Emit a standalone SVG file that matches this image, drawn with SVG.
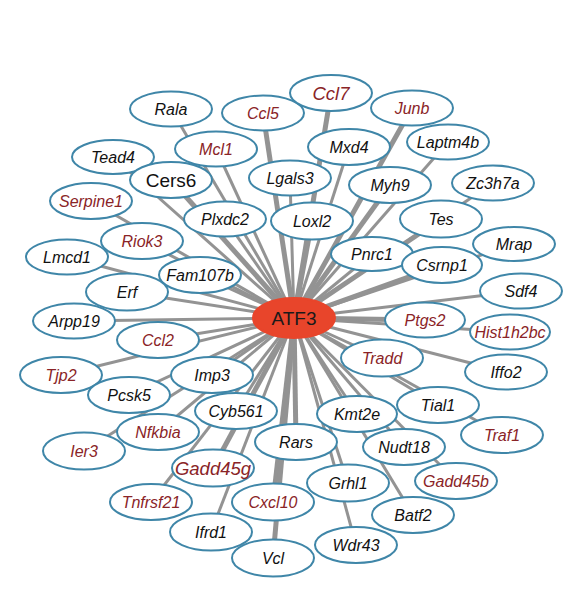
<svg xmlns="http://www.w3.org/2000/svg" width="565" height="599" viewBox="0 0 565 599">
<style>
.e{stroke:#939393;stroke-width:3;fill:none;stroke-linecap:butt}
.t{stroke-width:5}
.n ellipse{fill:#fff;stroke:#3f86a8;stroke-width:2}
.n text{font-family:"Liberation Sans",Arial,sans-serif;font-style:italic;font-size:16px;text-anchor:middle;fill:#111}
.n text.r{fill:#8a2427}
.n text.b{font-size:18.5px}
#ATF3 ellipse{fill:#e8452b;stroke:#e8452b}
#ATF3 text{font-style:normal;font-size:19px;fill:#1a1a1a}
</style>
<rect width="565" height="599" fill="#fff"/>
<g id="edges">
<line class="e" x1="294" y1="318" x2="171" y2="109"/>
<line class="e t" x1="294" y1="318" x2="263" y2="113"/>
<line class="e t" x1="294" y1="318" x2="331" y2="93"/>
<line class="e t" x1="294" y1="318" x2="412" y2="108"/>
<line class="e" x1="294" y1="318" x2="216" y2="149"/>
<line class="e" x1="294" y1="318" x2="113" y2="157"/>
<line class="e" x1="294" y1="318" x2="349" y2="147"/>
<line class="e" x1="294" y1="318" x2="448" y2="142"/>
<line class="e t" x1="294" y1="318" x2="171" y2="180"/>
<line class="e" x1="294" y1="318" x2="290" y2="178"/>
<line class="e t" x1="294" y1="318" x2="390" y2="185"/>
<line class="e" x1="294" y1="318" x2="493" y2="183"/>
<line class="e" x1="294" y1="318" x2="91" y2="201"/>
<line class="e" x1="294" y1="318" x2="225" y2="219"/>
<line class="e t" x1="294" y1="318" x2="312" y2="221"/>
<line class="e t" x1="294" y1="318" x2="441" y2="219"/>
<line class="e" x1="294" y1="318" x2="142" y2="241"/>
<line class="e" x1="294" y1="318" x2="514" y2="244"/>
<line class="e" x1="294" y1="318" x2="372" y2="254"/>
<line class="e" x1="294" y1="318" x2="67" y2="257"/>
<line class="e t" x1="294" y1="318" x2="442" y2="265"/>
<line class="e" x1="294" y1="318" x2="200" y2="275"/>
<line class="e" x1="294" y1="318" x2="127" y2="292"/>
<line class="e" x1="294" y1="318" x2="521" y2="291"/>
<line class="e" x1="294" y1="318" x2="74" y2="321"/>
<line class="e t" x1="294" y1="318" x2="425" y2="320"/>
<line class="e" x1="294" y1="318" x2="510" y2="332"/>
<line class="e" x1="294" y1="318" x2="158" y2="340"/>
<line class="e" x1="294" y1="318" x2="382" y2="358"/>
<line class="e" x1="294" y1="318" x2="506" y2="372"/>
<line class="e" x1="294" y1="318" x2="61" y2="375"/>
<line class="e" x1="294" y1="318" x2="212" y2="375"/>
<line class="e" x1="294" y1="318" x2="129" y2="395"/>
<line class="e" x1="294" y1="318" x2="438" y2="405"/>
<line class="e" x1="294" y1="318" x2="236" y2="411"/>
<line class="e" x1="294" y1="318" x2="357" y2="414"/>
<line class="e" x1="294" y1="318" x2="158" y2="432"/>
<line class="e" x1="294" y1="318" x2="502" y2="435"/>
<line class="e" x1="294" y1="318" x2="84" y2="451"/>
<line class="e t" x1="294" y1="318" x2="296" y2="442"/>
<line class="e" x1="294" y1="318" x2="404" y2="447"/>
<line class="e t" x1="294" y1="318" x2="213" y2="468"/>
<line class="e" x1="294" y1="318" x2="456" y2="481"/>
<line class="e" x1="294" y1="318" x2="348" y2="483"/>
<line class="e" x1="294" y1="318" x2="151" y2="502"/>
<line class="e t" x1="294" y1="318" x2="273" y2="502"/>
<line class="e" x1="294" y1="318" x2="413" y2="515"/>
<line class="e" x1="294" y1="318" x2="211" y2="532"/>
<line class="e" x1="294" y1="318" x2="356" y2="545"/>
<line class="e t" x1="294" y1="318" x2="273" y2="558"/>
</g>
<g id="Rala" class="n"><ellipse cx="171" cy="109" rx="41" ry="17.5"/><text x="171" y="115">Rala</text></g>
<g id="Ccl5" class="n"><ellipse cx="263" cy="113" rx="41" ry="17.5"/><text class="r" x="263" y="119">Ccl5</text></g>
<g id="Ccl7" class="n"><ellipse cx="331" cy="93" rx="41" ry="18"/><text class="r b" x="331" y="100">Ccl7</text></g>
<g id="Junb" class="n"><ellipse cx="412" cy="108" rx="41" ry="17.5"/><text class="r" x="412" y="114">Junb</text></g>
<g id="Mcl1" class="n"><ellipse cx="216" cy="149" rx="41" ry="17.5"/><text class="r" x="216" y="155">Mcl1</text></g>
<g id="Tead4" class="n"><ellipse cx="113" cy="157" rx="41" ry="17"/><text x="113" y="163">Tead4</text></g>
<g id="Mxd4" class="n"><ellipse cx="349" cy="147" rx="41" ry="18"/><text x="349" y="153">Mxd4</text></g>
<g id="Laptm4b" class="n"><ellipse cx="448" cy="142" rx="41" ry="17.5"/><text x="448" y="148">Laptm4b</text></g>
<g id="Cers6" class="n"><ellipse cx="171" cy="180" rx="41" ry="18"/><text class="b" x="171" y="187" style="font-style:normal;font-size:19px">Cers6</text></g>
<g id="Lgals3" class="n"><ellipse cx="290" cy="178" rx="41" ry="17.5"/><text x="290" y="184">Lgals3</text></g>
<g id="Myh9" class="n"><ellipse cx="390" cy="185" rx="41" ry="18"/><text x="390" y="191">Myh9</text></g>
<g id="Zc3h7a" class="n"><ellipse cx="493" cy="183" rx="41" ry="17.5"/><text x="493" y="189">Zc3h7a</text></g>
<g id="Serpine1" class="n"><ellipse cx="91" cy="201" rx="41" ry="18"/><text class="r" x="91" y="207">Serpine1</text></g>
<g id="Plxdc2" class="n"><ellipse cx="225" cy="219" rx="41" ry="17.5"/><text x="225" y="225">Plxdc2</text></g>
<g id="Loxl2" class="n"><ellipse cx="312" cy="221" rx="41" ry="18.5"/><text x="312" y="227">Loxl2</text></g>
<g id="Tes" class="n"><ellipse cx="441" cy="219" rx="41" ry="18.5"/><text x="441" y="225">Tes</text></g>
<g id="Riok3" class="n"><ellipse cx="142" cy="241" rx="41" ry="18"/><text class="r" x="142" y="247">Riok3</text></g>
<g id="Mrap" class="n"><ellipse cx="514" cy="244" rx="41" ry="17"/><text x="514" y="250">Mrap</text></g>
<g id="Pnrc1" class="n"><ellipse cx="372" cy="254" rx="41" ry="17"/><text x="372" y="260">Pnrc1</text></g>
<g id="Lmcd1" class="n"><ellipse cx="67" cy="257" rx="41" ry="17.5"/><text x="67" y="263">Lmcd1</text></g>
<g id="Csrnp1" class="n"><ellipse cx="442" cy="265" rx="40" ry="18"/><text x="442" y="271">Csrnp1</text></g>
<g id="Fam107b" class="n"><ellipse cx="200" cy="275" rx="41" ry="18"/><text x="200" y="281">Fam107b</text></g>
<g id="Erf" class="n"><ellipse cx="127" cy="292" rx="41" ry="18.5"/><text x="127" y="298">Erf</text></g>
<g id="Sdf4" class="n"><ellipse cx="521" cy="291" rx="41" ry="17.5"/><text x="521" y="297">Sdf4</text></g>
<g id="Arpp19" class="n"><ellipse cx="74" cy="321" rx="41" ry="17.5"/><text x="74" y="327">Arpp19</text></g>
<g id="Ptgs2" class="n"><ellipse cx="425" cy="320" rx="40" ry="17.5"/><text class="r" x="425" y="326">Ptgs2</text></g>
<g id="Hist1h2bc" class="n"><ellipse cx="510" cy="332" rx="40" ry="17.5"/><text class="r" x="510" y="338">Hist1h2bc</text></g>
<g id="Ccl2" class="n"><ellipse cx="158" cy="340" rx="41" ry="18"/><text class="r" x="158" y="346">Ccl2</text></g>
<g id="Tradd" class="n"><ellipse cx="382" cy="358" rx="41" ry="18.5"/><text class="r" x="382" y="364">Tradd</text></g>
<g id="Iffo2" class="n"><ellipse cx="506" cy="372" rx="41" ry="17.5"/><text x="506" y="378">Iffo2</text></g>
<g id="Tjp2" class="n"><ellipse cx="61" cy="375" rx="41" ry="18"/><text class="r" x="61" y="381">Tjp2</text></g>
<g id="Imp3" class="n"><ellipse cx="212" cy="375" rx="41" ry="18"/><text x="212" y="381">Imp3</text></g>
<g id="Pcsk5" class="n"><ellipse cx="129" cy="395" rx="41" ry="18"/><text x="129" y="401">Pcsk5</text></g>
<g id="Tial1" class="n"><ellipse cx="438" cy="405" rx="41" ry="18"/><text x="438" y="411">Tial1</text></g>
<g id="Cyb561" class="n"><ellipse cx="236" cy="411" rx="41" ry="18"/><text x="236" y="417">Cyb561</text></g>
<g id="Kmt2e" class="n"><ellipse cx="357" cy="414" rx="40" ry="18"/><text x="357" y="420">Kmt2e</text></g>
<g id="Nfkbia" class="n"><ellipse cx="158" cy="432" rx="41" ry="18"/><text class="r" x="158" y="438">Nfkbia</text></g>
<g id="Traf1" class="n"><ellipse cx="502" cy="435" rx="41" ry="18"/><text class="r" x="502" y="441">Traf1</text></g>
<g id="Ier3" class="n"><ellipse cx="84" cy="451" rx="41" ry="18.5"/><text class="r" x="84" y="457">Ier3</text></g>
<g id="Rars" class="n"><ellipse cx="296" cy="442" rx="41" ry="18"/><text x="296" y="448">Rars</text></g>
<g id="Nudt18" class="n"><ellipse cx="404" cy="447" rx="41" ry="18"/><text x="404" y="453">Nudt18</text></g>
<g id="Gadd45g" class="n"><ellipse cx="213" cy="468" rx="41" ry="18.5"/><text class="r b" x="213" y="475">Gadd45g</text></g>
<g id="Gadd45b" class="n"><ellipse cx="456" cy="481" rx="41" ry="18"/><text class="r" x="456" y="487">Gadd45b</text></g>
<g id="Grhl1" class="n"><ellipse cx="348" cy="483" rx="41" ry="18.5"/><text x="348" y="489">Grhl1</text></g>
<g id="Tnfrsf21" class="n"><ellipse cx="151" cy="502" rx="41" ry="18"/><text class="r" x="151" y="508">Tnfrsf21</text></g>
<g id="Cxcl10" class="n"><ellipse cx="273" cy="502" rx="41" ry="18.5"/><text class="r" x="273" y="508">Cxcl10</text></g>
<g id="Batf2" class="n"><ellipse cx="413" cy="515" rx="41" ry="18"/><text x="413" y="521">Batf2</text></g>
<g id="Ifrd1" class="n"><ellipse cx="211" cy="532" rx="41" ry="18.5"/><text x="211" y="538">Ifrd1</text></g>
<g id="Wdr43" class="n"><ellipse cx="356" cy="545" rx="41" ry="18"/><text x="356" y="551">Wdr43</text></g>
<g id="Vcl" class="n"><ellipse cx="273" cy="558" rx="41" ry="18.5"/><text x="273" y="564">Vcl</text></g>
<g id="ATF3" class="n"><ellipse cx="294" cy="318" rx="41" ry="20"/><text x="294" y="325">ATF3</text></g>
</svg>
